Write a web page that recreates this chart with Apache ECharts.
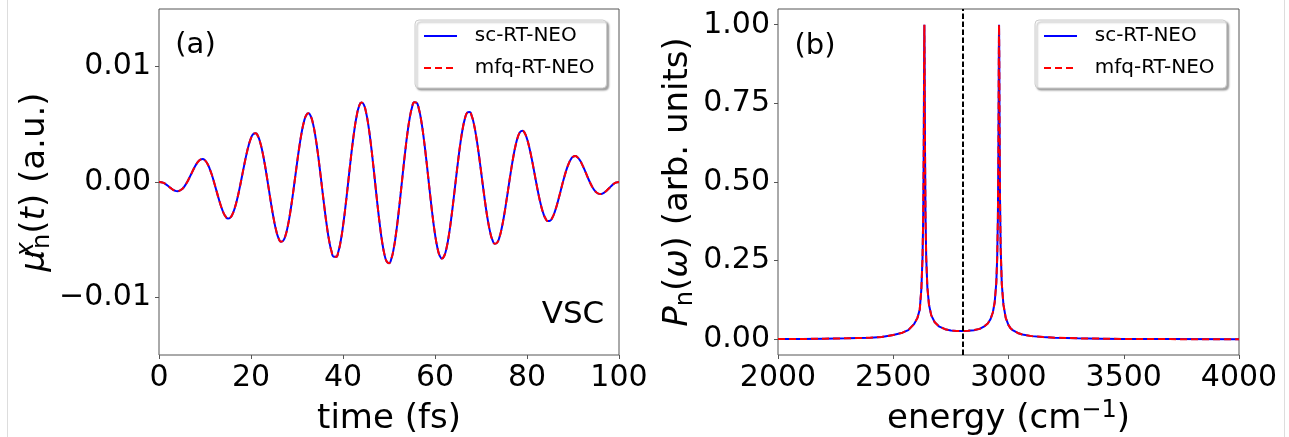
<!DOCTYPE html>
<html>
<head>
<meta charset="utf-8">
<script src="https://cdn.jsdelivr.net/npm/echarts@6/dist/echarts.min.js"></script>
<style>
html,body{margin:0;padding:0;background:#fff;}
#c{width:1289px;height:437px;}
</style>
</head>
<body>
<div id="c"></div>
<script>
// ---------- data ----------
const seriesNames = ['sc-RT-NEO', 'mfq-RT-NEO'];

const timeFs = [0,0.5,1,1.5,2,2.5,3,3.5,4,4.5,5,5.5,6,6.5,7,7.5,8,8.5,9,9.5,
  10,10.5,11,11.5,12,12.5,13,13.5,14,14.5,15,15.5,16,16.5,17,17.5,18,18.5,19,19.5,
  20,20.5,21,21.5,22,22.5,23,23.5,24,24.5,25,25.5,26,26.5,27,27.5,28,28.5,29,29.5,
  30,30.5,31,31.5,32,32.5,33,33.5,34,34.5,35,35.5,36,36.5,37,37.5,38,38.5,39,39.5,
  40,40.5,41,41.5,42,42.5,43,43.5,44,44.5,45,45.5,46,46.5,47,47.5,48,48.5,49,49.5,
  50,50.5,51,51.5,52,52.5,53,53.5,54,54.5,55,55.5,56,56.5,57,57.5,58,58.5,59,59.5,
  60,60.5,61,61.5,62,62.5,63,63.5,64,64.5,65,65.5,66,66.5,67,67.5,68,68.5,69,69.5,
  70,70.5,71,71.5,72,72.5,73,73.5,74,74.5,75,75.5,76,76.5,77,77.5,78,78.5,79,79.5,
  80,80.5,81,81.5,82,82.5,83,83.5,84,84.5,85,85.5,86,86.5,87,87.5,88,88.5,89,89.5,
  90,90.5,91,91.5,92,92.5,93,93.5,94,94.5,95,95.5,96,96.5,97,97.5,98,98.5,99,99.5,100];

const dipoleSc = [
  0, -0.000012, -0.000082, -0.000200, -0.000349, -0.000509, -0.000653, -0.000757, -0.000796, -0.000755,
  -0.000621, -0.000395, -0.000087, 0.000285, 0.000692, 0.001100, 0.001471, 0.001765, 0.001947, 0.001991,
  0.001877, 0.001600, 0.001167, 0.000603, -0.000057, -0.000768, -0.001475, -0.002121, -0.002649, -0.003010,
  -0.003165, -0.003087, -0.002768, -0.002222, -0.001474, -0.000575, 0.000415, 0.001424, 0.002376, 0.003193,
  0.003812, 0.004170, 0.004232, 0.003983, 0.003426, 0.002593, 0.001536, 0.000326, -0.000950, -0.002200,
  -0.003329, -0.004248, -0.004881, -0.005173, -0.005093, -0.004635, -0.003824, -0.002709, -0.001367, 0.000109,
  0.001613, 0.003033, 0.004262, 0.005208, 0.005792, 0.005962, 0.005701, 0.005016, 0.003956, 0.002583,
  0.001001, -0.000680, -0.002339, -0.003852, -0.005106, -0.006005, -0.006480, -0.006488, -0.006025, -0.005118,
  -0.003829, -0.002246, -0.000486, 0.001327, 0.003060, 0.004585, 0.005788, 0.006583, 0.006903, 0.006726,
  0.006061, 0.004952, 0.003479, 0.001748, -0.000118, -0.001980, -0.003704, -0.005166, -0.006255, -0.006896,
  -0.007036, -0.006669, -0.005819, -0.004552, -0.002954, -0.001147, 0.000739, 0.002569, 0.004208, 0.005539,
  0.006461, 0.006915, 0.006869, 0.006328, 0.005334, 0.003962, 0.002314, 0.000511, -0.001314, -0.003030,
  -0.004512, -0.005655, -0.006379, -0.006638, -0.006416, -0.005736, -0.004651, -0.003246, -0.001626, 0.000089,
  0.001772, 0.003305, 0.004573, 0.005496, 0.006007, 0.006078, 0.005712, 0.004942, 0.003835, 0.002471,
  0.000960, -0.000587, -0.002059, -0.003349, -0.004368, -0.005050, -0.005353, -0.005264, -0.004801, -0.004006,
  -0.002947, -0.001708, -0.000384, 0.000926, 0.002128, 0.003139, 0.003889, 0.004335, 0.004453, 0.004250,
  0.003749, 0.003000, 0.002067, 0.001026, -0.000044, -0.001061, -0.001956, -0.002666, -0.003150, -0.003383,
  -0.003361, -0.003098, -0.002629, -0.001997, -0.001262, -0.000484, 0.000277, 0.000964, 0.001532, 0.001945,
  0.002184, 0.002244, 0.002136, 0.001880, 0.001511, 0.001069, 0.000595, 0.000131, -0.000286, -0.000626,
  -0.000869, -0.001007, -0.001042, -0.000983, -0.000851, -0.000671, -0.000471, -0.000277, -0.000113, -0.000030,
  0.000010];
const dipoleMfq = dipoleSc.slice();   // the two curves coincide in the reference

const energyCm = [2000,2100,2200,2300,2400,2450,2500,2540,2565,2590,
  2605,2615,2622,2627,2630,2632,2633,2634,2635,2636,
  2637,2638,2640,2643,2648,2655,2665,2680,2700,2725,
  2750,2775,2800,2825,2850,2875,2895,2910,2922,2932,
  2940,2947,2951,2954,2956,2957,2958,2959,2960,2961,
  2963,2966,2971,2978,2988,3000,3010,3020,3040,3060,
  3100,3150,3200,3300,3400,3500,3700,4000];
const spectrumSc = [0.0005,0.001,0.002,0.003,0.005,0.0075,0.0135,0.021,0.029,0.048,
  0.068,0.095,0.16,0.26,0.39,0.58,0.73,0.91,1.0,0.91,
  0.73,0.58,0.39,0.26,0.165,0.11,0.076,0.054,0.040,0.032,
  0.028,0.026,0.026,0.027,0.029,0.033,0.041,0.050,0.064,0.085,
  0.117,0.179,0.26,0.39,0.58,0.73,0.91,1.0,0.91,0.73,
  0.46,0.29,0.175,0.11,0.068,0.045,0.034,0.028,0.020,0.015,
  0.010,0.007,0.005,0.003,0.002,0.001,0.0005,0.0];
const spectrumMfq = spectrumSc.slice();

const cavityEnergy = [2800];

const leftXTicks = [0, 20, 40, 60, 80, 100];
const leftYTicks = [-0.01, 0, 0.01];
const leftYTickLabels = ['\u22120.01', '0.00', '0.01'];
const rightXTicks = [2000, 2500, 3000, 3500, 4000];
const rightYTicks = [0, 0.25, 0.5, 0.75, 1.0];
const rightYTickLabels = ['0.00', '0.25', '0.50', '0.75', '1.00'];

// ---------- chart ----------
const FONT = 'DejaVu Sans';
const FRAME = '#555';
const DASH = [7, 4];
const chart = echarts.init(document.getElementById('c'), null, {renderer: 'canvas'});

function pick(vals, labels) {
  return function (v) {
    for (let i = 0; i < vals.length; i++) if (Math.abs(vals[i] - v) < 1e-9) return labels[i];
    return '';
  };
}
function plain(v) { return String(v); }

const tickLabel = {fontSize: 30, color: '#000', fontFamily: FONT, margin: 8};
const tick = {show: true, length: 4, inside: false, lineStyle: {color: FRAME, width: 1}};
const nameBase = {fontFamily: FONT, fontSize: 34, color: '#000', lineHeight: 40};
const rich = {
  rm: {fontFamily: FONT, fontSize: 34, color: '#000', lineHeight: 40},
  it: {fontFamily: FONT, fontSize: 34, color: '#000', lineHeight: 40, fontStyle: 'italic'},
  supx: {fontFamily: FONT, fontSize: 24, color: '#000', lineHeight: 23, verticalAlign: 'top', fontStyle: 'italic', width: 1},
  sup: {fontFamily: FONT, fontSize: 24, color: '#000', lineHeight: 23, verticalAlign: 'top'},
  sub: {fontFamily: FONT, fontSize: 24, color: '#000', lineHeight: 23, verticalAlign: 'bottom'}
};

const legendCommon = {
  orient: 'vertical', top: 20,
  data: seriesNames,
  itemWidth: 33, itemHeight: 20, itemGap: 12,
  padding: [6, 12, 10, 8],
  backgroundColor: '#fff', borderColor: '#cccccc', borderWidth: 1, borderRadius: 4,
  shadowColor: 'rgba(0,0,0,0.35)', shadowBlur: 2, shadowOffsetX: 2, shadowOffsetY: 2,
  itemStyle: {opacity: 0, borderWidth: 0},
  textStyle: {fontFamily: FONT, fontSize: 20, color: '#000'},
  formatter: function (n) { return '  ' + n; },
  selectedMode: false
};

const gridCommon = {top: 9, height: 346, show: true, borderColor: FRAME, borderWidth: 1,
  backgroundColor: 'transparent', containLabel: false, outerBoundsMode: 'none'};

const option = {
  animation: false,
  backgroundColor: '#fff',
  grid: [
    Object.assign({left: 159, width: 460}, gridCommon),
    Object.assign({left: 778, width: 461}, gridCommon)
  ],
  xAxis: [
    {type: 'value', gridIndex: 0, min: 0, max: 100, interval: 20,
     axisLine: {show: false, onZero: false}, axisTick: Object.assign({customValues: leftXTicks}, tick),
     axisLabel: Object.assign({customValues: leftXTicks, formatter: plain}, tickLabel), splitLine: {show: false},
     name: 'time (fs)', nameLocation: 'middle', nameGap: 44, nameTextStyle: nameBase, nameMoveOverlap: false},
    {type: 'value', gridIndex: 1, min: 2000, max: 4000, interval: 500,
     axisLine: {show: false, onZero: false}, axisTick: Object.assign({customValues: rightXTicks}, tick),
     axisLabel: Object.assign({customValues: rightXTicks, formatter: plain}, tickLabel), splitLine: {show: false},
     name: '{rm|energy (cm}{sup|\u22121}{rm|)}', nameLocation: 'middle', nameGap: 44,
     nameTextStyle: Object.assign({rich: rich}, nameBase), nameMoveOverlap: false}
  ],
  yAxis: [
    {type: 'value', gridIndex: 0, min: -0.015, max: 0.015,
     axisLine: {show: false, onZero: false}, axisTick: Object.assign({customValues: leftYTicks}, tick),
     axisLabel: Object.assign({customValues: leftYTicks, formatter: pick(leftYTicks, leftYTickLabels)}, tickLabel),
     splitLine: {show: false},
     name: '{it|\u03bc}{supx|x}{sub|n}{rm|(}{it|t}{rm|) (a.u.)}', nameLocation: 'middle', nameRotate: 90, nameGap: 104,
     nameTextStyle: Object.assign({rich: rich}, nameBase), nameMoveOverlap: false},
    {type: 'value', gridIndex: 1, min: -0.05, max: 1.05,
     axisLine: {show: false, onZero: false}, axisTick: Object.assign({customValues: rightYTicks}, tick),
     axisLabel: Object.assign({customValues: rightYTicks, formatter: pick(rightYTicks, rightYTickLabels)}, tickLabel),
     splitLine: {show: false},
     name: '{it|P}{sub|n}{rm|(}{it|\u03c9}{rm|) (arb. units)}', nameLocation: 'middle', nameRotate: 90, nameGap: 80,
     nameTextStyle: Object.assign({rich: rich}, nameBase), nameMoveOverlap: false}
  ],
  legend: [
    Object.assign({left: 415}, legendCommon),
    Object.assign({left: 1035}, legendCommon)
  ],
  graphic: [
    {type: 'line', shape: {x1: 7.5, y1: 0, x2: 7.5, y2: 437}, style: {stroke: '#dddddd', lineWidth: 1}, silent: true},
    {type: 'line', shape: {x1: 1284.5, y1: 0, x2: 1284.5, y2: 437}, style: {stroke: '#dddddd', lineWidth: 1}, silent: true},
    {type: 'text', x: 195.5, y: 45, style: {text: '(a)', font: '29px "DejaVu Sans"', fill: '#000', align: 'center', verticalAlign: 'middle', textAlign: 'center', textVerticalAlign: 'middle'}},
    {type: 'text', x: 815, y: 46, style: {text: '(b)', font: '29px "DejaVu Sans"', fill: '#000', align: 'center', verticalAlign: 'middle', textAlign: 'center', textVerticalAlign: 'middle'}},
    {type: 'text', x: 573, y: 315, style: {text: 'VSC', font: '31px "DejaVu Sans"', fill: '#000', align: 'center', verticalAlign: 'middle', textAlign: 'center', textVerticalAlign: 'middle'}}
  ],
  series: [
    {name: seriesNames[0], type: 'line', xAxisIndex: 0, yAxisIndex: 0, smooth: true, symbol: 'none',
     data: timeFs.map((t, i) => [t, dipoleSc[i]]),
     lineStyle: {color: '#0000ff', width: 2}, itemStyle: {color: '#0000ff'}, z: 2},
    {name: seriesNames[1], type: 'line', xAxisIndex: 0, yAxisIndex: 0, smooth: true, symbol: 'none',
     data: timeFs.map((t, i) => [t, dipoleMfq[i]]),
     lineStyle: {color: '#ff0000', width: 2, type: DASH}, itemStyle: {color: '#ff0000'}, z: 3},
    {name: seriesNames[0], type: 'line', xAxisIndex: 1, yAxisIndex: 1, symbol: 'none',
     data: energyCm.map((e, i) => [e, spectrumSc[i]]),
     lineStyle: {color: '#0000ff', width: 2}, itemStyle: {color: '#0000ff'}, z: 2,
     markLine: {silent: true, symbol: 'none', label: {show: false},
       lineStyle: {color: '#000', width: 2, type: [5.5, 2.5]},
       data: cavityEnergy.map(e => ({xAxis: e}))}},
    {name: seriesNames[1], type: 'line', xAxisIndex: 1, yAxisIndex: 1, symbol: 'none',
     data: energyCm.map((e, i) => [e, spectrumMfq[i]]),
     lineStyle: {color: '#ff0000', width: 2, type: DASH}, itemStyle: {color: '#ff0000'}, z: 3}
  ]
};
chart.setOption(option);
</script>
</body>
</html>
